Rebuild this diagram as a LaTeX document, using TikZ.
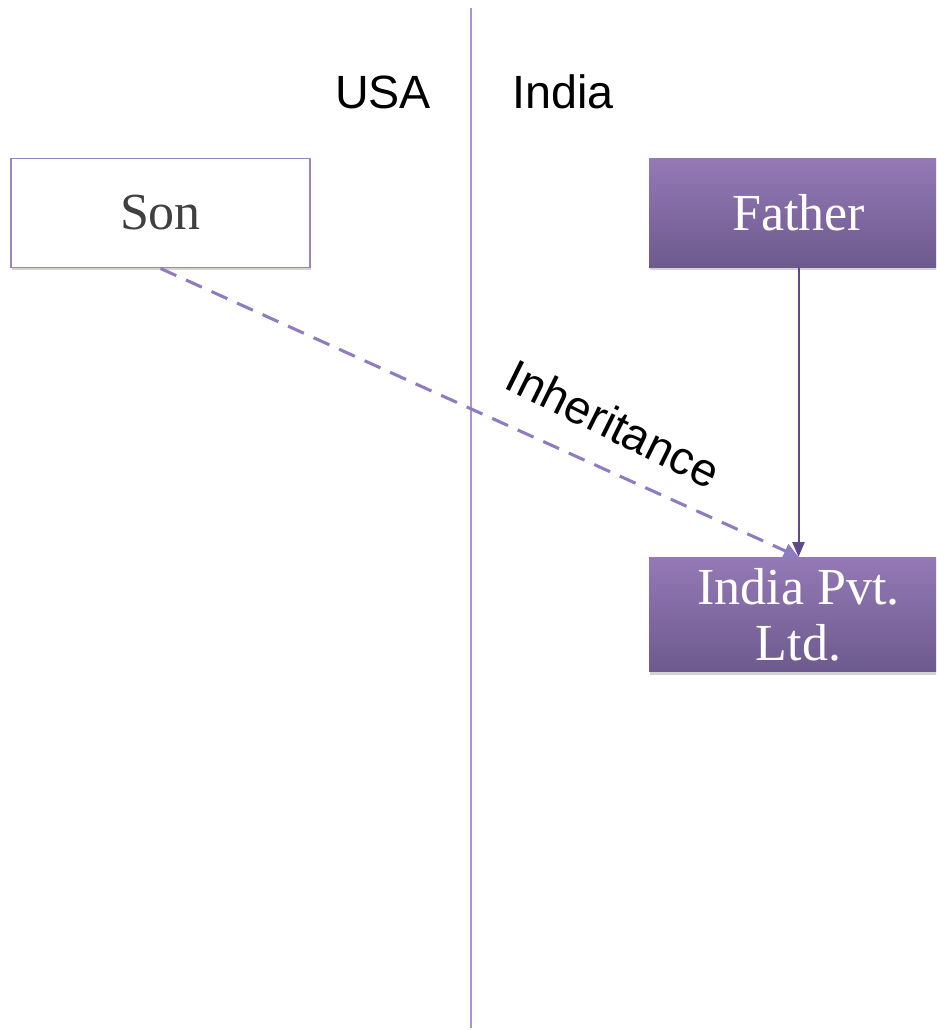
\documentclass[tikz,border=0pt]{standalone}
\usepackage{fontspec}
\usepackage{xcolor}
\usepackage{tikz}
\usetikzlibrary{arrows.meta, shadows, positioning}
\newfontfamily\labelfont{Liberation Sans}
\newfontfamily\boxfont{Liberation Serif}
\definecolor{lineviolet}{HTML}{A898C8}
\definecolor{edgeviolet}{HTML}{9A85C0}
\definecolor{dashviolet}{HTML}{8E7CBF}
\definecolor{topviolet}{HTML}{9479B6}
\definecolor{botviolet}{HTML}{6D5A8D}
\definecolor{darkviolet}{HTML}{5E4A87}
\definecolor{sontext}{HTML}{404040}
\tikzset{
    plainbox/.style={draw=edgeviolet, line width=1.2pt, fill=white, minimum width=224pt, minimum height=82pt,
        font=\boxfont\fontsize{39}{42}\selectfont, text=sontext, drop shadow={shadow xshift=0.5pt, shadow yshift=-2pt, opacity=0.35}},
    fillbox/.style={draw=none, top color=topviolet, bottom color=botviolet, minimum width=224pt, minimum height=82pt,
        font=\boxfont\fontsize{39}{42}\selectfont, text=white, align=center, drop shadow={shadow xshift=0.5pt, shadow yshift=-2pt, opacity=0.35}},
    country/.style={font=\labelfont\fontsize{35}{40}\selectfont, inner sep=0pt}
}
\begin{document}
\begin{tikzpicture}[x=0.75pt, y=-0.75pt]
    \useasboundingbox (0,0) rectangle (936,1030);
    \clip (0,0) rectangle (936,1030);
    \coordinate (top) at (471,8);
    \coordinate (bottom) at (471,1028);
    \draw [lineviolet, line width=1.3pt] (top) -- (bottom);
    \node [country] (usa) at (383,92) {USA};
    \node [country] (india) at (563,92) {India};
    \node [plainbox] (son) at (160.5,213) {Son};
    \node [fillbox] (father) at (798.5,213) {Father};
    \node [fillbox, minimum height=86pt] (pvt) at (798.5,614.5) {India Pvt.\\Ltd.};
    \draw [darkviolet, line width=1.5pt, -{Triangle[length=11pt, width=9pt]}] (father.south) -- (pvt.north);
    \draw [dashviolet, line width=2.3pt, dash pattern=on 13pt off 8pt, -{Triangle[length=11pt, width=11pt]}] (son.south) -- (pvt.north)
        node [pos=0.68, sloped, rotate=-2, above=20pt, font=\labelfont\fontsize{35}{40}\selectfont, inner sep=0pt, text=black] (inh) {Inheritance};
\end{tikzpicture}
\end{document}
